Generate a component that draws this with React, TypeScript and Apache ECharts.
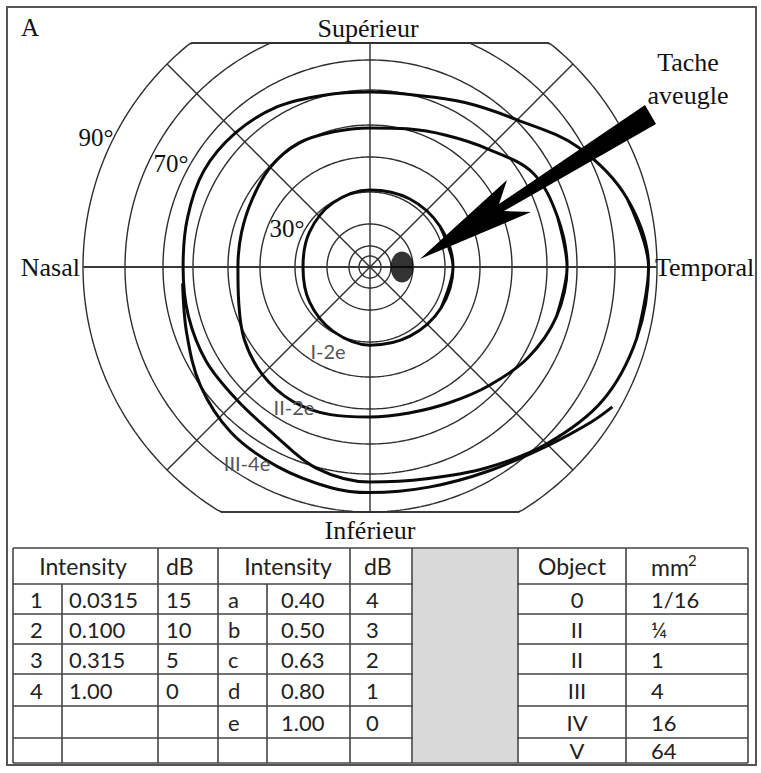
import React, { useEffect, useRef } from 'react';
import * as echarts from 'echarts';

// ---------- DATA ----------
// Perimetric rings (eccentricity in degrees)
const RING_ECC = [5, 10, 20, 30, 40, 50, 60, 70, 80, 90];
// Oblique meridians (degrees, 0 = temporal, counter-clockwise)
const DIAGONAL_ANGLES = [45, 135, 225, 315];
// Eccentricity labels shown on the chart
const ECC_LABELS = ['90°', '70°', '30°'];

// Isopters: [meridian angle (deg), eccentricity (deg)]
const ISO_I2E = [
  [0, 32.3], [30, 31.7], [60, 31.1], [90, 30.6], [120, 29.7], [150, 28.4], [180, 27.5],
  [210, 28.4], [240, 29.7], [270, 30.9], [300, 31.4], [330, 32],
];
const ISO_II2E = [
  [0, 66.7], [15, 65.7], [30, 63.7], [45, 57.1], [60, 52.9], [75, 50.3], [90, 49.1],
  [105, 49.4], [120, 50.3], [135, 49.7], [150, 48.1], [165, 47.2], [180, 46.9],
  [195, 48.1], [210, 50.9], [225, 52.9], [240, 53.7], [255, 53.1], [270, 52.3],
  [285, 52.6], [300, 54.3], [315, 57.4], [330, 61.7], [345, 65.3],
];
const ISO_III4E = [
  [0, 88], [15, 85], [30, 78.7], [45, 70.3], [60, 64.3], [75, 60.3], [90, 59.4],
  [105, 60.3], [120, 62.7], [135, 64.3], [150, 65], [165, 64], [180, 63.3], [195, 63.7],
  [210, 64], [225, 63.7], [240, 65.3], [255, 70.3], [270, 72.1], [285, 73.2],
  [300, 76.6], [315, 81.2], [330, 85.5], [345, 87.4],
];
const ISO_III4E_INF = [
  [185, 63.7], [200, 66], [215, 70], [230, 72.4], [245, 73.4], [260, 74.5], [270, 74.9],
  [285, 75.5], [300, 77.6], [315, 81.7], [325, 86], [330, 88.3],
];
const BLIND_SPOT = [[0, 15]];
const ISO_LABELS = ['I-2e', 'II-2e', 'III-4e'];

// Table
const HEADER = ['Intensity', 'dB', 'Intensity', 'dB', 'Object'];
const COL_NUM = ['1', '2', '3', '4', '', ''];
const COL_INT1 = ['0.0315', '0.100', '0.315', '1.00', '', ''];
const COL_DB1 = ['15', '10', '5', '0', '', ''];
const COL_LETTER = ['a', 'b', 'c', 'd', 'e', ''];
const COL_INT2 = ['0.40', '0.50', '0.63', '0.80', '1.00', ''];
const COL_DB2 = ['4', '3', '2', '1', '0', ''];
const COL_OBJECT = ['0', 'II', 'II', 'III', 'IV', 'V'];
const COL_MM2 = ['1/16', '¼', '1', '4', '16', '64'];

// ---------- LAYOUT / SCALE ----------
const CX = 370;
const CY = 267;
const TOP_LIMIT = 224;
const BOTTOM_LIMIT = 245;
const SCALE_ECC = [0, 5, 10, 20, 30, 40, 50, 60, 70, 80, 90];
const SCALE_PX = [0, 11, 21, 43, 75, 110, 142, 177, 207, 245, 287];

function eccToR(e: number): number {
  for (let i = 1; i < SCALE_ECC.length; i++) {
    if (e <= SCALE_ECC[i]) {
      const t = (e - SCALE_ECC[i - 1]) / (SCALE_ECC[i] - SCALE_ECC[i - 1]);
      return SCALE_PX[i - 1] + t * (SCALE_PX[i] - SCALE_PX[i - 1]);
    }
  }
  return SCALE_PX[SCALE_PX.length - 1];
}
function toXY(a: number, e: number): number[] {
  const r = eccToR(e);
  const t = (a * Math.PI) / 180;
  return [r * Math.cos(t), r * Math.sin(t)];
}

const SERIF = "'Liberation Serif', 'DejaVu Serif', serif";
const SANS = "Lato, 'Open Sans', sans-serif";

function txt(text: string, x: number, y: number, size: number, family: string, align = 'center', fill = '#111') {
  return {
    type: 'text',
    x,
    y,
    z: 50,
    silent: true,
    style: {
      text,
      fontSize: size,
      fontFamily: family,
      fill,
      textAlign: align,
      textVerticalAlign: 'middle',
      align,
      verticalAlign: 'middle',
    },
  };
}
function ln(x1: number, y1: number, x2: number, y2: number, stroke = '#444', w = 1.6, z = 20) {
  return { type: 'line', z, silent: true, shape: { x1, y1, x2, y2 }, style: { stroke, lineWidth: w } };
}

function buildOption() {
  const series: any[] = [];
  const thin = { color: '#2e2e2e', width: 1.4 };
  const base = { type: 'line', showSymbol: false, symbol: 'none', silent: true, z: 2 };

  RING_ECC.forEach((e) => {
    const r = eccToR(e);
    const pts: number[][] = [];
    for (let d = 0; d <= 360; d += 1) {
      const t = (d * Math.PI) / 180;
      const y = Math.max(-BOTTOM_LIMIT, Math.min(TOP_LIMIT, r * Math.sin(t)));
      pts.push([r * Math.cos(t), y]);
    }
    series.push({ ...base, name: `ring ${e}`, data: pts, lineStyle: thin });
  });

  const R = eccToR(90);
  series.push({ ...base, name: 'horizontal', data: [[-R, 0], [R, 0]], lineStyle: { color: '#3a3a3a', width: 1.8 } });
  series.push({ ...base, name: 'vertical', data: [[0, TOP_LIMIT], [0, -BOTTOM_LIMIT]], lineStyle: thin });
  DIAGONAL_ANGLES.forEach((a) => {
    series.push({ ...base, name: `diag ${a}`, data: [[0, 0], toXY(a, 90)], lineStyle: thin });
  });
  const wt = Math.sqrt(R * R - TOP_LIMIT * TOP_LIMIT);
  const wb = Math.sqrt(R * R - BOTTOM_LIMIT * BOTTOM_LIMIT);
  series.push({ ...base, name: 'top', data: [[-wt, TOP_LIMIT], [wt, TOP_LIMIT]], lineStyle: thin });
  series.push({ ...base, name: 'bottom', data: [[-wb, -BOTTOM_LIMIT], [wb, -BOTTOM_LIMIT]], lineStyle: thin });

  const thick = { color: '#0a0a0a', width: 3 };
  const closed = (arr: number[][]) => {
    const pts = arr.map(([a, e]) => toXY(a, e));
    return [pts[pts.length - 1], ...pts, pts[0], pts[1]];
  };
  series.push({ ...base, z: 3, name: 'I-2e', smooth: 0.35, data: closed(ISO_I2E), lineStyle: thick });
  series.push({ ...base, z: 3, name: 'II-2e', smooth: 0.35, data: closed(ISO_II2E), lineStyle: thick });
  series.push({ ...base, z: 3, name: 'III-4e', smooth: 0.35, data: closed(ISO_III4E), lineStyle: thick });
  series.push({
    ...base, z: 3, name: 'III-4e inf', smooth: 0.35,
    data: ISO_III4E_INF.map(([a, e]) => toXY(a, e)), lineStyle: thick,
  });
  series.push({
    type: 'scatter', name: 'Tache aveugle', silent: true, z: 4,
    symbol: 'circle', symbolSize: [23, 31],
    itemStyle: { color: '#000' },
    data: BLIND_SPOT.map(([a, e]) => toXY(a, e)),
  });

  const graphic: any[] = [];
  // frame
  graphic.push({ type: 'rect', z: 1, silent: true, shape: { x: 7, y: 7, width: 749, height: 758 }, style: { fill: 'none', stroke: '#555', lineWidth: 2 } });

  // arrow
  graphic.push({
    type: 'polygon', z: 40, silent: true,
    shape: { points: [[420, 259], [507, 180], [499, 204], [645, 105], [656, 124], [504, 211], [531, 212]] },
    style: { fill: '#000' },
  });

  // chart labels
  graphic.push(txt('A', 30, 27, 25, SERIF));
  graphic.push(txt('Supérieur', CX - 2, 28, 26, SERIF));
  graphic.push(txt('Inférieur', CX, 530, 26, SERIF));
  graphic.push(txt('Nasal', 80, CY, 26, SERIF, 'right'));
  graphic.push(txt('Temporal', 655, CY, 26, SERIF, 'left'));
  graphic.push(txt('Tache', 688, 62, 26, SERIF));
  graphic.push(txt('aveugle', 688, 95, 26, SERIF));
  const eccPos = [[96, 137], [171, 163], [287, 228]];
  ECC_LABELS.forEach((l, i) => graphic.push(txt(l, eccPos[i][0], eccPos[i][1], 25, SERIF)));
  const isoPos = [[328, 351], [294, 407], [247, 463]];
  ISO_LABELS.forEach((l, i) => graphic.push(txt(l, isoPos[i][0], isoPos[i][1], 20, SANS, 'center', '#555')));

  // table
  const TX = [13, 62, 158, 218, 267, 350, 412, 518, 626, 748];
  const TY = [548, 584, 614, 644, 674, 706, 738, 763];
  TY.forEach((y) => graphic.push(ln(TX[0], y, TX[TX.length - 1], y)));
  graphic.push({ type: 'rect', z: 21, silent: true, shape: { x: TX[6] + 1, y: TY[0] + 1, width: TX[7] - TX[6] - 2, height: TY[7] - TY[0] - 2 }, style: { fill: '#d9d9d9' } });
  TX.forEach((x, i) => {
    const startY = i === 1 || i === 4 ? TY[1] : TY[0];
    graphic.push(ln(x, startY, x, TY[TY.length - 1], '#444', 1.6, 22));
  });
  const hy = (TY[0] + TY[1]) / 2;
  const HS = 23;
  graphic.push(txt(HEADER[0], 83, hy, HS, SANS, 'center', '#222'));
  graphic.push(txt(HEADER[1], 166, hy, HS, SANS, 'left', '#222'));
  graphic.push(txt(HEADER[2], 288, hy, HS, SANS, 'center', '#222'));
  graphic.push(txt(HEADER[3], 364, hy, HS, SANS, 'left', '#222'));
  graphic.push(txt(HEADER[4], 572, hy, HS, SANS, 'center', '#222'));
  graphic.push(txt('mm', 651, hy + 1, HS, SANS, 'left', '#222'));
  graphic.push(txt('2', 688, hy - 6, 15, SANS, 'left', '#222'));
  const cols: [string[], number, string][] = [
    [COL_NUM, 30, 'left'], [COL_INT1, 69, 'left'], [COL_DB1, 166, 'left'], [COL_LETTER, 228, 'left'],
    [COL_INT2, 281, 'left'], [COL_DB2, 366, 'left'], [COL_OBJECT, 577, 'center'], [COL_MM2, 651, 'left'],
  ];
  for (let r = 0; r < 6; r++) {
    const y = (TY[r + 1] + TY[r + 2]) / 2;
    cols.forEach(([arr, x, al]) => {
      if (arr[r]) graphic.push(txt(arr[r], x, y, 22, SANS, al, '#222'));
    });
  }

  return {
    animation: false,
    backgroundColor: '#fff',
    grid: { left: 0, top: 0, width: 761, height: 773, containLabel: false },
    xAxis: { type: 'value', min: -CX, max: 761 - CX, show: false },
    yAxis: { type: 'value', min: CY - 773, max: CY, show: false },
    series,
    graphic,
  };
}

export default function App() {
  const ref = useRef<HTMLDivElement>(null);
  useEffect(() => {
    if (!ref.current) return;
    const chart = echarts.init(ref.current, null, { renderer: 'svg' });
    chart.setOption(buildOption() as any);
    return () => chart.dispose();
  }, []);
  return (
    <div
      ref={ref}
      style={{ position: 'fixed', left: 0, top: 0, width: 761, height: 773, background: '#fff' }}
    />
  );
}
